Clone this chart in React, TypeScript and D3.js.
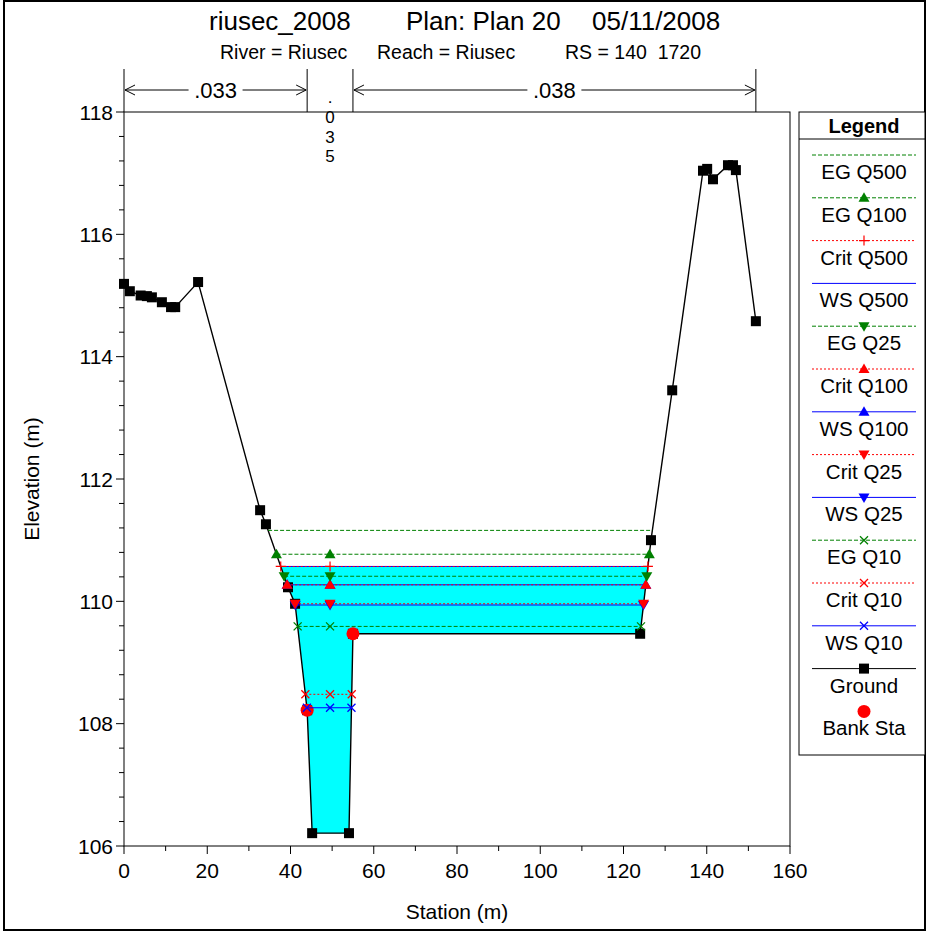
import React from "react";
import * as d3 from "d3";

// Ground geometry
const groundStation = [0, 1.4, 4.0, 5.5, 6.7, 9.1, 11.3, 12.3, 17.8, 32.7, 34.1, 39.4, 41.1, 44.0, 45.2, 54.05, 55.0, 124.0, 126.6, 131.7, 139.1, 140.1, 141.5, 145.1, 146.3, 147.0, 151.8];
const groundElev = [115.19, 115.07, 115.0, 114.99, 114.97, 114.89, 114.81, 114.81, 115.22, 111.49, 111.26, 110.23, 109.96, 108.22, 106.21, 106.21, 109.47, 109.47, 111.0, 113.45, 117.04, 117.07, 116.9, 117.13, 117.13, 117.05, 114.58];

const bankStation = [44.0, 55.0];
const bankElev = [108.22, 109.47];

// Profiles (legend order)
const profileNames = ["EG Q500", "EG Q100", "Crit Q500", "WS Q500", "EG Q25", "Crit Q100", "WS Q100", "Crit Q25", "WS Q25", "EG Q10", "Crit Q10", "WS Q10"];
const profileElev = [111.16, 110.77, 110.57, 110.57, 110.41, 110.27, 110.27, 109.96, 109.94, 109.59, 108.48, 108.26];
const profileKind = ["EG", "EG", "Crit", "WS", "EG", "Crit", "WS", "Crit", "WS", "EG", "Crit", "WS"];
const profileMarker = ["none", "triUp", "plus", "none", "triDown", "triUp", "triUp", "triDown", "triDown", "x", "x", "x"];

// Manning's n
const nBreaks = [0, 44.0, 55.0, 151.8];
const nValues = [".033", ".035", ".038"];

const xTicks = [0, 20, 40, 60, 80, 100, 120, 140, 160];
const yTicks = [106, 108, 110, 112, 114, 116, 118];

const channelCenter = 49.5;

const kindColor: Record<string, string> = { EG: "#008000", Crit: "#FF0000", WS: "#0000FF" };
const kindDash: Record<string, string | undefined> = { EG: "4,2", Crit: "2,2", WS: undefined };

const FONT = "Arial, 'Liberation Sans', sans-serif";

function intersect(level: number): [number, number] {
  let ci = 0;
  for (let i = 0; i < groundStation.length - 1; i++) {
    if (groundStation[i] <= channelCenter && groundStation[i + 1] >= channelCenter) ci = i;
  }
  let xl = groundStation[0];
  for (let i = ci; i >= 0; i--) {
    const e0 = groundElev[i];
    const e1 = groundElev[i + 1];
    if (e0 >= level) {
      const t = (level - e1) / (e0 - e1);
      xl = groundStation[i + 1] + t * (groundStation[i] - groundStation[i + 1]);
      break;
    }
  }
  let xr = groundStation[groundStation.length - 1];
  for (let i = ci + 1; i < groundStation.length; i++) {
    const e0 = groundElev[i - 1];
    const e1 = groundElev[i];
    if (e1 >= level) {
      const t = (level - e0) / (e1 - e0);
      xr = groundStation[i - 1] + t * (groundStation[i] - groundStation[i - 1]);
      break;
    }
  }
  return [xl, xr];
}

function Marker({ type, x, y, color }: { type: string; x: number; y: number; color: string }) {
  if (type === "triUp") return <path d={`M${x},${y - 5.5}L${x + 5.5},${y + 4}L${x - 5.5},${y + 4}Z`} fill={color} />;
  if (type === "triDown") return <path d={`M${x},${y + 5.5}L${x + 5.5},${y - 4}L${x - 5.5},${y - 4}Z`} fill={color} />;
  if (type === "plus") return <path d={`M${x - 5},${y}H${x + 5}M${x},${y - 5}V${y + 5}`} stroke={color} strokeWidth={1.2} />;
  if (type === "x") return <path d={`M${x - 4},${y - 4}L${x + 4},${y + 4}M${x - 4},${y + 4}L${x + 4},${y - 4}`} stroke={color} strokeWidth={1.3} />;
  if (type === "square") return <rect x={x - 5} y={y - 5} width={10} height={10} fill={color} />;
  if (type === "circle") return <circle cx={x} cy={y} r={6.5} fill={color} />;
  return null;
}

export default function App() {
  const W = 927, H = 936;
  const left = 124, right = 790, top = 112, bottom = 846;
  const x = d3.scaleLinear().domain([0, 160]).range([left, right]);
  const y = d3.scaleLinear().domain([106, 118]).range([bottom, top]);

  const groundPts: [number, number][] = groundStation.map((s, i) => [s, groundElev[i]]);
  const line = d3.line<[number, number]>().x((d) => x(d[0])).y((d) => y(d[1]));

  const wsTop = profileElev[3];
  const [fl, fr] = intersect(wsTop);
  const fillPts: [number, number][] = [[fl, wsTop], ...groundPts.filter((p) => p[0] > fl && p[0] < fr), [fr, wsTop]];

  const xMinor = d3.range(10, 160, 20);
  const yMinor = d3.range(106, 118.001, 0.4).filter((v) => Math.abs(v / 2 - Math.round(v / 2)) > 0.01);

  const order = profileNames.map((_, i) => i).reverse();

  const legendX0 = 812, legendX1 = 916, legendCx = 864;
  const legendY0 = 155, legendStep = 42.8;

  const nLineTop = 69, nArrowY = 90;

  return (
    <svg width={W} height={H} style={{ display: "block", position: "absolute", left: 0, top: 0 }} fontFamily={FONT}>
      <rect x={0} y={0} width={W} height={H} fill="#fff" />
      <rect x={4} y={1} width={921} height={929} fill="none" stroke="#000" strokeWidth={2} />

      {/* Title */}
      <text x={209} y={30} fontSize={26}>riusec_2008</text>
      <text x={406} y={30} fontSize={26}>Plan: Plan 20</text>
      <text x={592} y={30} fontSize={26}>05/11/2008</text>
      <text x={220} y={59} fontSize={19.5} style={{ whiteSpace: "pre" }}>River = Riusec</text>
      <text x={377} y={59} fontSize={19.5} style={{ whiteSpace: "pre" }}>Reach = Riusec</text>
      <text x={565} y={59} fontSize={19.5} style={{ whiteSpace: "pre" }}>{"RS = 140  1720"}</text>

      {/* Manning's n */}
      {nBreaks.map((s, i) => (
        <line key={"nb" + i} x1={x(s)} x2={x(s)} y1={nLineTop} y2={top} stroke="#000" strokeWidth={1} />
      ))}
      {nValues.map((v, i) => {
        const x0 = x(nBreaks[i]), x1 = x(nBreaks[i + 1]);
        const cx = (x0 + x1) / 2;
        if (x1 - x0 < 80) {
          return (
            <g key={"nv" + i}>
              {v.split("").map((c, k) => (
                <text key={k} x={cx} y={103 + k * 19.8} fontSize={17} textAnchor="middle">{c}</text>
              ))}
            </g>
          );
        }
        const tw = 48;
        return (
          <g key={"nv" + i} stroke="#000" fill="none" strokeWidth={1}>
            <line x1={x0 + 1} x2={cx - tw / 2 - 3} y1={nArrowY} y2={nArrowY} />
            <line x1={cx + tw / 2 + 3} x2={x1 - 1} y1={nArrowY} y2={nArrowY} />
            <path d={`M${x0 + 11},${nArrowY - 5}L${x0 + 1},${nArrowY}L${x0 + 11},${nArrowY + 5}`} />
            <path d={`M${x1 - 11},${nArrowY - 5}L${x1 - 1},${nArrowY}L${x1 - 11},${nArrowY + 5}`} />
            <text x={cx} y={nArrowY + 8} fontSize={22} textAnchor="middle" stroke="none" fill="#000">{v}</text>
          </g>
        );
      })}

      {/* Plot frame */}
      <rect x={left} y={top} width={right - left} height={bottom - top} fill="none" stroke="#000" strokeWidth={1} />

      {/* Axes ticks */}
      {xTicks.map((t) => (
        <g key={"xt" + t}>
          <line x1={x(t)} x2={x(t)} y1={bottom} y2={bottom + 8} stroke="#000" />
          <text x={x(t)} y={bottom + 32} fontSize={21} textAnchor="middle">{t}</text>
        </g>
      ))}
      {xMinor.map((t) => (
        <line key={"xm" + t} x1={x(t)} x2={x(t)} y1={bottom} y2={bottom + 5} stroke="#000" />
      ))}
      {yTicks.map((t) => (
        <g key={"yt" + t}>
          <line x1={left - 8} x2={left} y1={y(t)} y2={y(t)} stroke="#000" />
          <text x={left - 11} y={y(t) + 7.5} fontSize={21} textAnchor="end">{t}</text>
        </g>
      ))}
      {yMinor.map((t, i) => (
        <line key={"ym" + i} x1={left - 5} x2={left} y1={y(t)} y2={y(t)} stroke="#000" />
      ))}
      <text x={457} y={919} fontSize={21} textAnchor="middle">Station (m)</text>
      <text transform={`translate(39,479) rotate(-90)`} fontSize={21} textAnchor="middle">Elevation (m)</text>

      {/* Water fill */}
      <path d={line(fillPts) + "Z"} fill="#00FFFF" stroke="none" />

      {/* Ground */}
      <path d={line(groundPts) || ""} fill="none" stroke="#000" strokeWidth={1.4} />
      {groundPts.map((p, i) => (
        <Marker key={"g" + i} type="square" x={x(p[0])} y={y(p[1])} color="#000" />
      ))}

      {/* Bank stations */}
      {bankStation.map((s, i) => (
        <Marker key={"bk" + i} type="circle" x={x(s)} y={y(bankElev[i])} color="#FF0000" />
      ))}

      {/* Profiles */}
      {order.map((i) => {
        const lev = profileElev[i];
        const [a, b] = intersect(lev);
        const col = kindColor[profileKind[i]];
        return (
          <g key={"p" + i}>
            <line x1={x(a)} x2={x(b)} y1={y(lev)} y2={y(lev)} stroke={col} strokeWidth={1} strokeDasharray={kindDash[profileKind[i]]} />
            {[a, channelCenter, b].map((s, k) => (
              <Marker key={k} type={profileMarker[i]} x={x(s)} y={y(lev)} color={col} />
            ))}
          </g>
        );
      })}

      {/* Legend */}
      <rect x={799} y={top} width={126} height={643} fill="#fff" stroke="#000" strokeWidth={1} />
      <text x={legendCx} y={133} fontSize={20} fontWeight="bold" textAnchor="middle">Legend</text>
      <line x1={799} x2={925} y1={139} y2={139} stroke="#000" />
      {profileNames.map((nm, i) => {
        const ly = legendY0 + i * legendStep;
        const col = kindColor[profileKind[i]];
        return (
          <g key={"lg" + i}>
            <line x1={legendX0} x2={legendX1} y1={ly} y2={ly} stroke={col} strokeDasharray={kindDash[profileKind[i]]} />
            <Marker type={profileMarker[i]} x={legendCx} y={ly} color={col} />
            <text x={legendCx} y={ly + 24} fontSize={20.5} textAnchor="middle">{nm}</text>
          </g>
        );
      })}
      {(() => {
        const ly = legendY0 + 12 * legendStep;
        return (
          <g>
            <line x1={legendX0} x2={legendX1} y1={ly} y2={ly} stroke="#000" />
            <Marker type="square" x={legendCx} y={ly} color="#000" />
            <text x={legendCx} y={ly + 24} fontSize={20.5} textAnchor="middle">Ground</text>
          </g>
        );
      })()}
      {(() => {
        const ly = legendY0 + 13 * legendStep;
        return (
          <g>
            <Marker type="circle" x={legendCx} y={ly} color="#FF0000" />
            <text x={legendCx} y={ly + 24} fontSize={20.5} textAnchor="middle">Bank Sta</text>
          </g>
        );
      })()}
    </svg>
  );
}
